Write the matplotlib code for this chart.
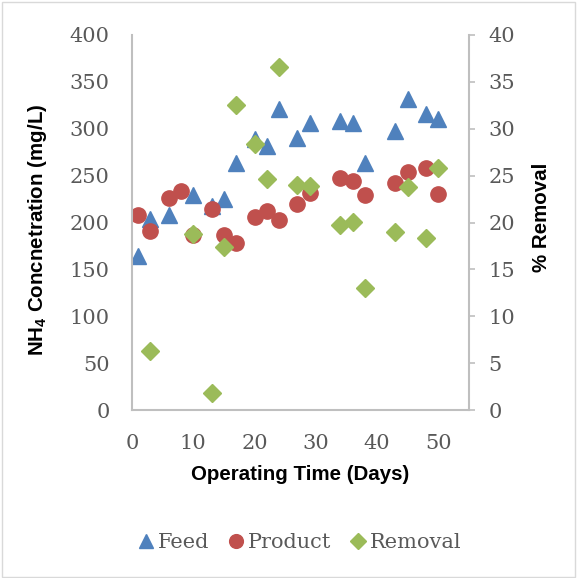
import matplotlib
matplotlib.use("Agg")
from matplotlib import pyplot as plt
from matplotlib.patches import Rectangle

# data
feed_days = [1, 3, 6, 10, 13, 15, 17, 20, 22, 24, 27, 29, 34, 36, 38, 43, 45, 48, 50]
feed = [164, 204, 208, 229, 218, 225, 263, 289, 282, 321, 290, 306, 308, 306, 263, 298, 332, 316, 310]

product_days = [1, 3, 6, 8, 10, 13, 15, 17, 20, 22, 24, 27, 29, 34, 36, 38, 43, 45, 48, 50]
product = [208, 191, 226, 234, 187, 214, 187, 178, 206, 212, 203, 220, 232, 248, 244, 229, 242, 254, 258, 230]

removal_days = [3, 10, 13, 15, 17, 20, 22, 24, 27, 29, 34, 36, 38, 43, 45, 48, 50]
removal = [6.3, 18.8, 1.8, 17.4, 32.5, 28.4, 24.6, 36.6, 24.0, 23.9, 19.7, 20.1, 13.0, 19.0, 23.8, 18.4, 25.8]

blue = "#4F81BD"
red = "#C0504D"
green = "#9BBB59"
tick_col = "#595959"
spine_col = "#BFBFBF"

plt.rcParams["mathtext.fontset"] = "custom"
plt.rcParams["mathtext.bf"] = "Liberation Sans:bold"
plt.rcParams["mathtext.rm"] = "Liberation Sans:bold"

fig = plt.figure(figsize=(5.77, 5.78), dpi=100)
ax = fig.add_axes([132 / 577, 1 - 410 / 578, (469 - 132) / 577, (410 - 35) / 578])
ax2 = ax.twinx()

# chart area border
fig.patches.append(Rectangle((0.003, 0.002), 0.994, 0.995, transform=fig.transFigure,
                             fill=False, edgecolor="#D9D9D9", linewidth=1))

h1, = ax.plot(feed_days, feed, linestyle="none", marker="^", markersize=11.5,
              color=blue, label="Feed")
h2, = ax.plot(product_days, product, linestyle="none", marker="o", markersize=11,
              color=red, label="Product")
h3, = ax2.plot(removal_days, removal, linestyle="none", marker="D", markersize=9,
               color=green, label="Removal")

ax.set_xlim(0, 55)
ax.set_ylim(0, 400)
ax2.set_ylim(0, 40)
ax.set_xticks([0, 10, 20, 30, 40, 50])
ax.set_yticks(range(0, 401, 50))
ax2.set_yticks(range(0, 41, 5))

for lbl in ax.get_xticklabels() + ax.get_yticklabels() + ax2.get_yticklabels():
    lbl.set_fontfamily("DejaVu Serif")
    lbl.set_fontsize(15)
    lbl.set_color(tick_col)

ax.tick_params(axis="both", length=0)
ax.tick_params(axis="y", pad=16)
ax.tick_params(axis="x", pad=17)
ax2.tick_params(axis="y", length=4, color=spine_col, width=1.2, pad=10)

for sp in ["top", "right"]:
    ax.spines[sp].set_visible(False)
for sp in ["top", "left", "bottom"]:
    ax2.spines[sp].set_visible(False)
for sp in [ax.spines["left"], ax.spines["bottom"], ax2.spines["right"]]:
    sp.set_color(spine_col)
    sp.set_linewidth(1.5)

label_font = {"family": "Liberation Sans", "weight": "bold", "size": 14.8}
ax.set_xlabel("Operating Time (Days)", fontdict=label_font, labelpad=9)
ax.set_ylabel(r"NH$_\mathbf{4}$ Concnetration (mg/L)", fontdict=label_font, labelpad=15)
ax2.set_ylabel("% Removal", fontdict=label_font, labelpad=12)
ax.yaxis.label.set_y(0.48)
ax2.yaxis.label.set_y(0.515)

fig.legend(handles=[h1, h2, h3], loc="center", bbox_to_anchor=(298 / 577, 1 - 543 / 578),
           ncol=3, frameon=False, handletextpad=0.0, columnspacing=0.75,
           prop={"family": "DejaVu Serif", "size": 15}, labelcolor=tick_col,
           handlelength=1.1, markerscale=0.9)

fig.savefig("out.png", dpi=100)
